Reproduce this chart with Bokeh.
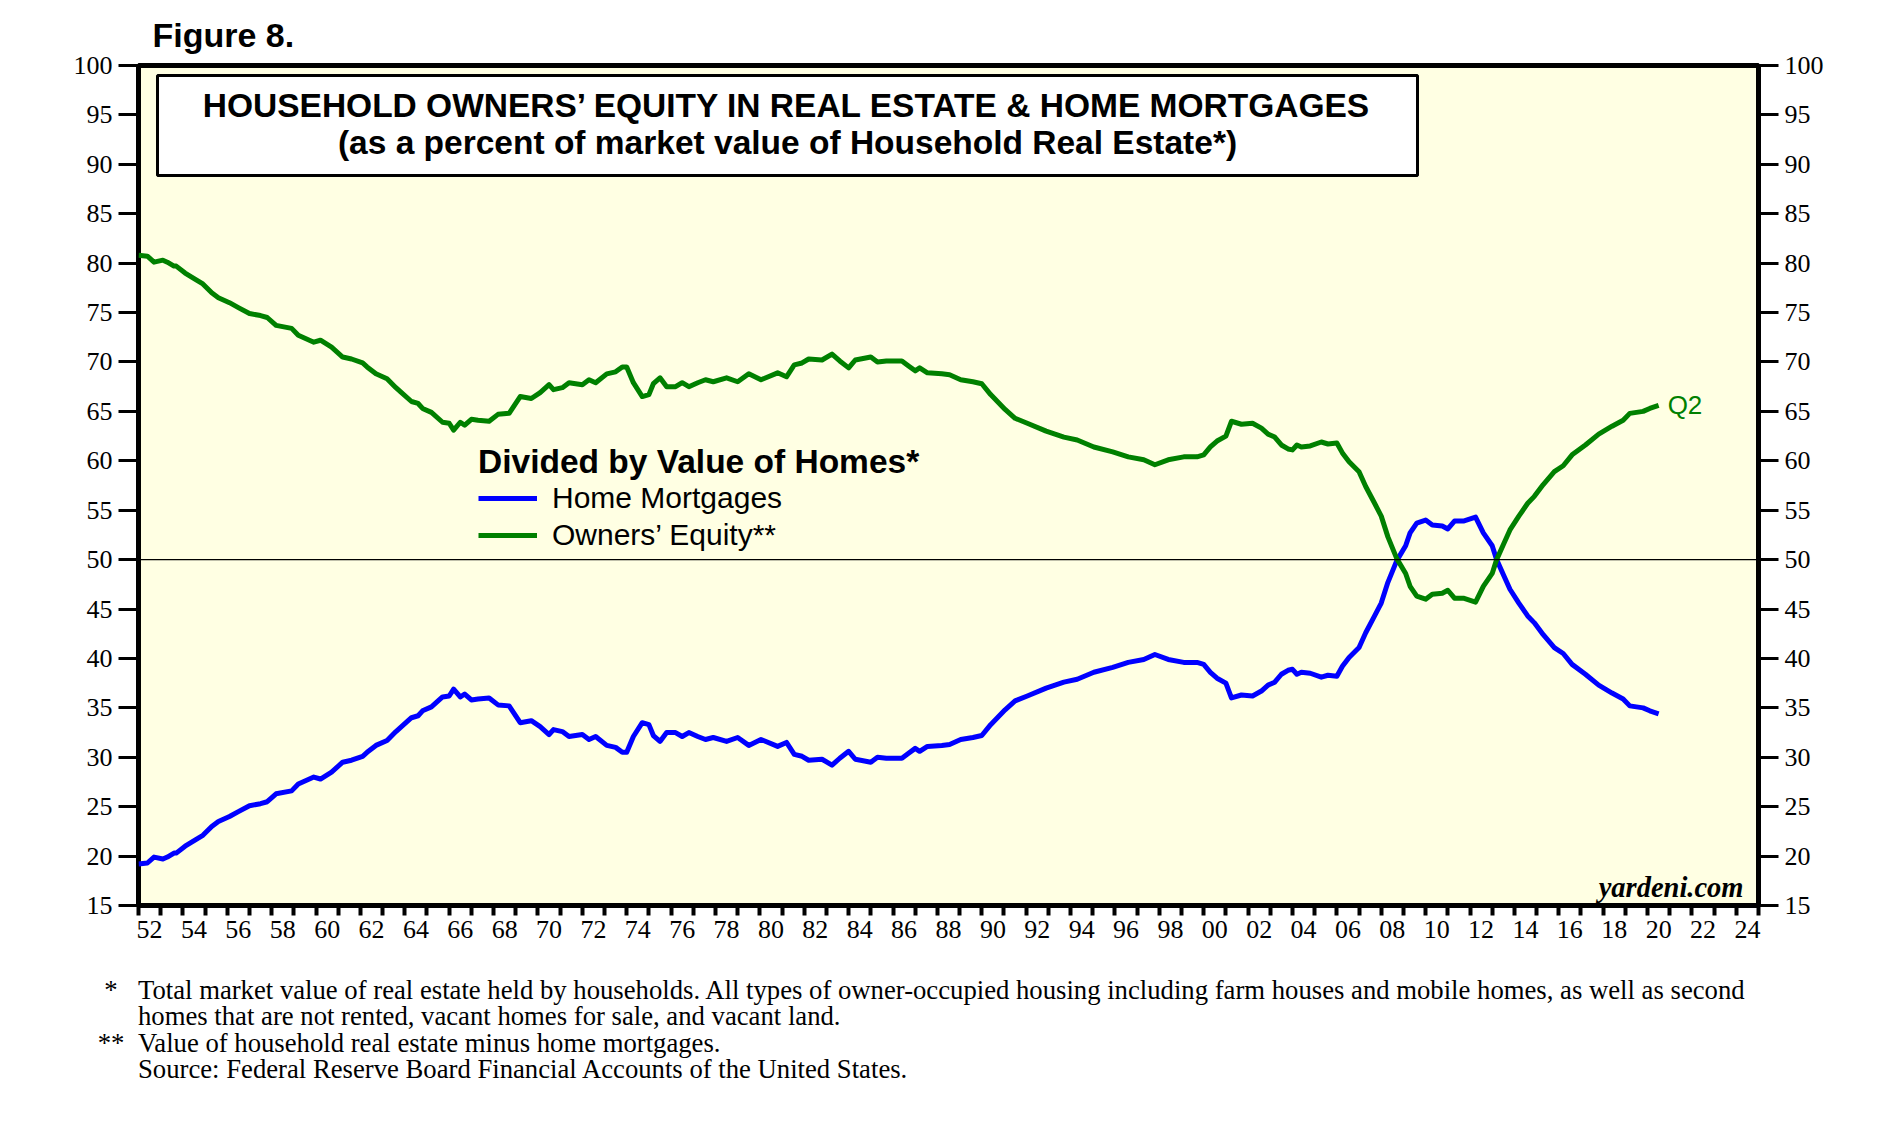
from bokeh.plotting import figure
from bokeh.layouts import column
from bokeh.models import (Range1d, LinearAxis, FixedTicker, Span, Label, BoxAnnotation,
                          Legend, LegendItem, ColumnDataSource, Div)
from bokeh.embed import file_html
from bokeh.resources import INLINE

# ---------------- data ----------------
years = [1952.0, 1952.4, 1952.7, 1953.1, 1953.3, 1953.6, 1953.7, 1954.1, 1954.6, 1954.9,
         1955.3, 1955.6, 1956.1, 1956.5, 1957.0, 1957.5, 1957.8, 1958.2, 1958.9, 1959.2,
         1959.9, 1960.2, 1960.7, 1961.2, 1961.6, 1962.1, 1962.3, 1962.7, 1963.2, 1963.6,
         1963.8, 1964.3, 1964.6, 1964.8, 1965.2, 1965.7, 1966.0, 1966.2, 1966.5, 1966.7,
         1967.0, 1967.3, 1967.8, 1968.2, 1968.7, 1969.2, 1969.7, 1970.1, 1970.5, 1970.7,
         1971.1, 1971.4, 1972.0, 1972.3, 1972.6, 1973.1, 1973.5, 1973.8, 1974.0, 1974.3,
         1974.7, 1975.0, 1975.2, 1975.5, 1975.8, 1976.2, 1976.5, 1976.8, 1977.2, 1977.55,
         1977.9, 1978.5, 1979.0, 1979.5, 1980.05, 1980.8, 1981.2, 1981.55, 1981.9, 1982.2,
         1982.8, 1983.25, 1983.6, 1984.0, 1984.3, 1985.0, 1985.3, 1985.7, 1986.4, 1986.7,
         1987.0, 1987.2, 1987.55, 1988.2, 1988.55, 1989.05, 1989.6, 1990.0, 1990.4, 1991.05,
         1991.5, 1992.05, 1992.9, 1993.7, 1994.3, 1995.05, 1995.9, 1996.6, 1997.3, 1997.8,
         1998.4, 1999.1, 1999.7, 2000.0, 2000.3, 2000.6, 2001.0, 2001.25, 2001.7, 2002.2,
         2002.6, 2002.9, 2003.2, 2003.5, 2003.8, 2004.0, 2004.2, 2004.4, 2004.8, 2005.3,
         2005.6, 2006.0, 2006.25, 2006.55, 2007.0, 2007.3, 2007.7, 2008.0, 2008.3, 2008.7,
         2009.1, 2009.3, 2009.6, 2010.0, 2010.3, 2010.75, 2011.0, 2011.3, 2011.7, 2012.25,
         2012.6, 2013.0, 2013.2, 2013.5, 2013.8, 2014.2, 2014.6, 2014.9, 2015.3, 2015.8,
         2016.2, 2016.6, 2017.2, 2017.8, 2018.4, 2018.9, 2019.2, 2019.8, 2020.1, 2020.5]

owners_equity = [80.8, 80.7, 80.1, 80.3, 80.1, 79.7, 79.7, 79.0, 78.3, 77.9,
                 77.0, 76.5, 76.0, 75.5, 74.9, 74.7, 74.5, 73.7, 73.4, 72.7,
                 72.0, 72.2, 71.5, 70.5, 70.3, 69.9, 69.5, 68.8, 68.3, 67.4,
                 67.0, 66.0, 65.8, 65.3, 64.9, 63.9, 63.8, 63.1, 63.9, 63.6,
                 64.2, 64.1, 64.0, 64.7, 64.8, 66.5, 66.3, 66.9, 67.7, 67.2,
                 67.4, 67.9, 67.7, 68.2, 67.9, 68.8, 69.0, 69.5, 69.5, 67.9,
                 66.5, 66.7, 67.8, 68.4, 67.5, 67.5, 67.9, 67.5, 67.9, 68.2,
                 68.0, 68.4, 68.0, 68.8, 68.2, 68.9, 68.5, 69.7, 69.9, 70.3,
                 70.2, 70.8, 70.1, 69.4, 70.2, 70.5, 70.0, 70.1, 70.1, 69.6,
                 69.1, 69.4, 68.9, 68.8, 68.7, 68.2, 68.0, 67.8, 66.7, 65.2,
                 64.3, 63.8, 63.0, 62.4, 62.1, 61.4, 60.9, 60.4, 60.1, 59.6,
                 60.1, 60.4, 60.4, 60.6, 61.4, 62.0, 62.5, 64.0, 63.7, 63.8,
                 63.3, 62.7, 62.4, 61.6, 61.2, 61.1, 61.6, 61.4, 61.5, 61.9,
                 61.7, 61.8, 60.8, 59.9, 58.9, 57.4, 55.7, 54.4, 52.3, 50.1,
                 48.6, 47.3, 46.3, 46.0, 46.5, 46.6, 46.9, 46.1, 46.1, 45.7,
                 47.3, 48.6, 50.0, 51.5, 53.0, 54.4, 55.7, 56.4, 57.6, 58.9,
                 59.5, 60.6, 61.6, 62.7, 63.5, 64.1, 64.8, 65.0, 65.3, 65.6]

home_mortgages = [19.2, 19.3, 19.9, 19.7, 19.9, 20.3, 20.3, 21.0, 21.7, 22.1,
                  23.0, 23.5, 24.0, 24.5, 25.1, 25.3, 25.5, 26.3, 26.6, 27.3,
                  28.0, 27.8, 28.5, 29.5, 29.7, 30.1, 30.5, 31.2, 31.7, 32.6,
                  33.0, 34.0, 34.2, 34.7, 35.1, 36.1, 36.2, 36.9, 36.1, 36.4,
                  35.8, 35.9, 36.0, 35.3, 35.2, 33.5, 33.7, 33.1, 32.3, 32.8,
                  32.6, 32.1, 32.3, 31.8, 32.1, 31.2, 31.0, 30.5, 30.5, 32.1,
                  33.5, 33.3, 32.2, 31.6, 32.5, 32.5, 32.1, 32.5, 32.1, 31.8,
                  32.0, 31.6, 32.0, 31.2, 31.8, 31.1, 31.5, 30.3, 30.1, 29.7,
                  29.8, 29.2, 29.9, 30.6, 29.8, 29.5, 30.0, 29.9, 29.9, 30.4,
                  30.9, 30.6, 31.1, 31.2, 31.3, 31.8, 32.0, 32.2, 33.3, 34.8,
                  35.7, 36.2, 37.0, 37.6, 37.9, 38.6, 39.1, 39.6, 39.9, 40.4,
                  39.9, 39.6, 39.6, 39.4, 38.6, 38.0, 37.5, 36.0, 36.3, 36.2,
                  36.7, 37.3, 37.6, 38.4, 38.8, 38.9, 38.4, 38.6, 38.5, 38.1,
                  38.3, 38.2, 39.2, 40.1, 41.1, 42.6, 44.3, 45.6, 47.7, 49.9,
                  51.4, 52.7, 53.7, 54.0, 53.5, 53.4, 53.1, 53.9, 53.9, 54.3,
                  52.7, 51.4, 50.0, 48.5, 47.0, 45.6, 44.3, 43.6, 42.4, 41.1,
                  40.5, 39.4, 38.4, 37.3, 36.5, 35.9, 35.2, 35.0, 34.7, 34.4]

x_tick_labels = ["52", "54", "56", "58", "60", "62", "64", "66", "68", "70", "72", "74",
                 "76", "78", "80", "82", "84", "86", "88", "90", "92", "94", "96", "98",
                 "00", "02", "04", "06", "08", "10", "12", "14", "16", "18", "20", "22", "24"]
y_ticks = [15, 20, 25, 30, 35, 40, 45, 50, 55, 60, 65, 70, 75, 80, 85, 90, 95, 100]

footnotes = [("*", "Total market value of real estate held by households. All types of owner-occupied housing including farm houses and mobile homes, as well as second"),
             ("", "homes that are not rented, vacant homes for sale, and vacant land."),
             ("**", "Value of household real estate minus home mortgages."),
             ("", "Source: Federal Reserve Board Financial Accounts of the United States.")]

# ---------------- styling ----------------
SANS = "Liberation Sans"
SERIF = "Liberation Serif"
GREEN = "#008000"
BLUE = "#0000FF"
W = 1882

p = figure(width=W, height=960,
           x_range=Range1d(1952, 2025), y_range=Range1d(15, 100),
           output_backend="svg", toolbar_location=None,
           min_border_left=138, min_border_right=124,
           min_border_top=65, min_border_bottom=55)
p.background_fill_color = "#FFFFE3"
p.border_fill_color = "white"
p.outline_line_color = "black"
p.outline_line_width = 5
p.grid.visible = False

# "Figure 8." as the plot title
p.title.text = "Figure 8."
p.title.align = "left"
p.title.offset = 14
p.title.standoff = 24
p.title.text_font = SANS
p.title.text_font_style = "bold"
p.title.text_font_size = "34px"
p.title.text_color = "black"

src = ColumnDataSource(dict(year=years, eq=owners_equity, mort=home_mortgages))
r_m = p.line("year", "mort", source=src, line_color=BLUE, line_width=5, line_join="round")
r_e = p.line("year", "eq", source=src, line_color=GREEN, line_width=5, line_join="round")

p.add_layout(Span(location=50, dimension="width", line_color="black", line_width=1.3))

# x axis: yearly ticks at boundaries, labels centred in the year
label_pos = [1952.5 + 2 * i for i in range(len(x_tick_labels))]
xa = p.xaxis[0]
xa.ticker = FixedTicker(ticks=label_pos, minor_ticks=list(range(1952, 2026)))
xa.major_label_overrides = {pos: lab for pos, lab in zip(label_pos, x_tick_labels)}
xa.axis_line_color = None
xa.major_tick_out = 0
xa.major_tick_in = 0
xa.minor_tick_out = 10
xa.minor_tick_in = 0
xa.minor_tick_line_width = 4
xa.minor_tick_line_color = "black"
xa.major_label_standoff = 5
xa.major_label_text_font = SERIF
xa.major_label_text_font_size = "26px"
xa.major_label_text_color = "black"

ya = p.yaxis[0]
ra = LinearAxis()
p.add_layout(ra, "right")
for ax in (ya, ra):
    ax.ticker = FixedTicker(ticks=y_ticks)
    ax.axis_line_color = None
    ax.major_tick_out = 20
    ax.major_tick_in = 0
    ax.major_tick_line_width = 3
    ax.major_tick_line_color = "black"
    ax.minor_tick_out = 0
    ax.minor_tick_in = 0
    ax.major_label_standoff = 6
    ax.major_label_text_font = SERIF
    ax.major_label_text_font_size = "26px"
    ax.major_label_text_color = "black"

# title box
p.add_layout(BoxAnnotation(left=19, right=1279, top=830, bottom=730,
                           left_units="screen", right_units="screen",
                           top_units="screen", bottom_units="screen",
                           fill_color="white", fill_alpha=1.0,
                           line_color="black", line_alpha=1.0, line_width=3,
                           level="annotation"))
p.add_layout(Label(x=649, y=800, x_units="screen", y_units="screen",
                   text="HOUSEHOLD OWNERS’ EQUITY IN REAL ESTATE & HOME MORTGAGES",
                   text_align="center", text_baseline="middle",
                   text_font=SANS, text_font_style="bold", text_font_size="33.5px",
                   text_color="black"))
p.add_layout(Label(x=649, y=763, x_units="screen", y_units="screen",
                   text="(as a percent of market value of Household Real Estate*)",
                   text_align="center", text_baseline="middle",
                   text_font=SANS, text_font_style="bold", text_font_size="33.5px",
                   text_color="black"))

# legend
legend = Legend(items=[LegendItem(label="Home Mortgages", renderers=[r_m]),
                       LegendItem(label="Owners’ Equity**", renderers=[r_e])],
                location=(340, 353), title="Divided by Value of Homes*",
                title_text_font=SANS, title_text_font_style="bold",
                title_text_font_size="33.5px", title_text_color="black", title_standoff=0,
                label_text_font=SANS, label_text_font_size="30px", label_text_color="black",
                glyph_width=59, glyph_height=30, label_height=30, label_standoff=15,
                spacing=3, padding=0, margin=0,
                background_fill_alpha=0, border_line_alpha=0)
p.add_layout(legend)

# Q2 label at the end of the equity line
p.add_layout(Label(x=years[-1], y=owners_equity[-1], x_offset=9, text="Q2",
                   text_baseline="middle", text_font=SANS, text_font_size="26px",
                   text_color=GREEN))

# source watermark
p.add_layout(Label(x=1605, y=18, x_units="screen", y_units="screen", text="yardeni.com",
                   text_align="right", text_baseline="middle",
                   text_font=SERIF, text_font_style="bold italic", text_font_size="28.5px",
                   text_color="black"))

# ---- footnotes below the chart ----
rows = []
for mark, txt in footnotes:
    rows.append('<div style="position:relative;padding-left:133px;white-space:nowrap;">'
                '<span style="position:absolute;left:90px;width:32px;text-align:center;">'
                + mark + '</span>' + txt + '</div>')
footer_html = ('<div style="font-family:\'Liberation Serif\';font-size:26.7px;line-height:26.4px;'
               'color:black;padding-top:12px;">' + "".join(rows) + '</div>')
footer = Div(text=footer_html, width=W, height=140)

layout = column(p, footer, spacing=0)
open("out.html", "w").write(file_html(layout, INLINE))
